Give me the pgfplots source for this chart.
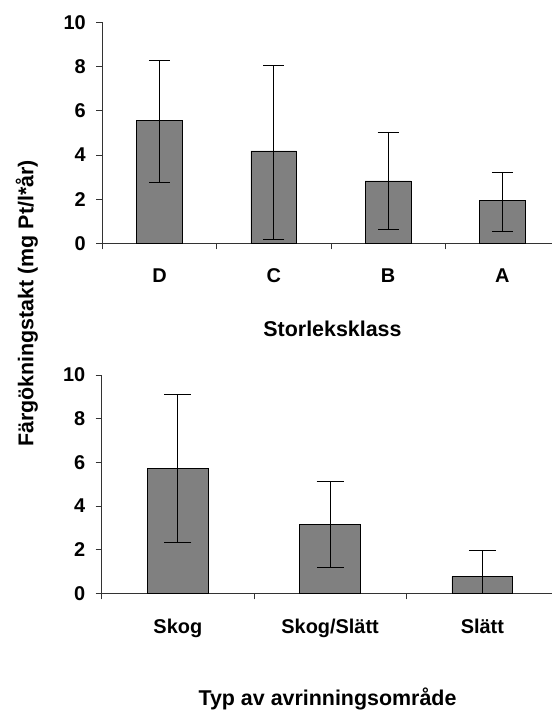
\documentclass[border=0pt]{standalone}
\usepackage{fontspec}
\setmainfont{Liberation Sans}
\usepackage{pgfplots}
\pgfplotsset{compat=1.18}
\definecolor{barfill}{HTML}{808080}

\pgfplotsset{
  panel/.style={
    scale only axis,
    anchor=south west,
    ymin=0, ymax=10,
    ytick={0,2,...,10},
    axis x line*=bottom,
    axis y line*=left,
    axis line style={black!80, line width=0.8bp},
    tick style={black!80, line width=0.8bp},
    tick align=outside,
    major tick length=6bp,
    tick label style={font=\fontsize{20}{24}\selectfont\bfseries},
    xticklabel style={yshift=-22bp},
    yticklabel style={xshift=-7bp},
    /pgf/number format/assume math mode=true,
    extra x tick style={major tick length=0pt},
    ybar, bar width=0.4,
  },
  bars/.style={
    fill=barfill, draw=black, line width=0.8bp,
    error bars/.cd, y dir=both, y explicit,
    error bar style={black, line width=0.8bp},
    error mark options={rotate=90, mark size=#1, black, line width=0.8bp},
  },
}

\begin{document}
\begin{tikzpicture}
\useasboundingbox (0,0) rectangle (552bp,-711bp);

% storleksklass
\begin{axis}[panel,
  at={(102.3bp,-243.3bp)}, width=449.7bp, height=221bp,
  xmin=0.5, xmax=4.434,
  xtick={0.5,1.5,2.5,3.5}, xticklabels={,,,},
  extra x ticks={1,2,3,4}, extra x tick labels={D,C,B,A},
]
\addplot[bars=10.5bp] table[x=x, y=y, y error plus=ep, y error minus=em] {
x y    ep   em
1 5.55 2.72 2.79
2 4.18 3.86 4.00
3 2.82 2.22 2.19
4 1.92 1.29 1.36
};
\end{axis}

% typ av avrinningsomrade
\begin{axis}[panel,
  at={(101.7bp,-593.3bp)}, width=450.3bp, height=218.3bp,
  xmin=0.5, xmax=3.457,
  xtick={0.5,1.5,2.5}, xticklabels={,,},
  extra x ticks={1,2,3}, extra x tick labels={Skog,Skog/Slätt,Slätt},
]
\addplot[bars=13.5bp] table[x=x, y=y, y error plus=ep, y error minus=em] {
x y    ep   em
1 5.73 3.37 3.41
2 3.16 1.95 1.98
3 0.76 1.19 0.76
};
\end{axis}

\node[anchor=base, font=\fontsize{21.5}{26}\selectfont\bfseries] at (332.5bp,-336bp) {Storleksklass};
\node[anchor=base, font=\fontsize{21.5}{26}\selectfont\bfseries] at (327.5bp,-705.5bp) {Typ av avrinningsområde};
\node[anchor=base, rotate=90, font=\fontsize{21.5}{26}\selectfont\bfseries] at (33.3bp,-303.5bp) {Färgökningstakt (mg Pt/l*år)};
\end{tikzpicture}
\end{document}
